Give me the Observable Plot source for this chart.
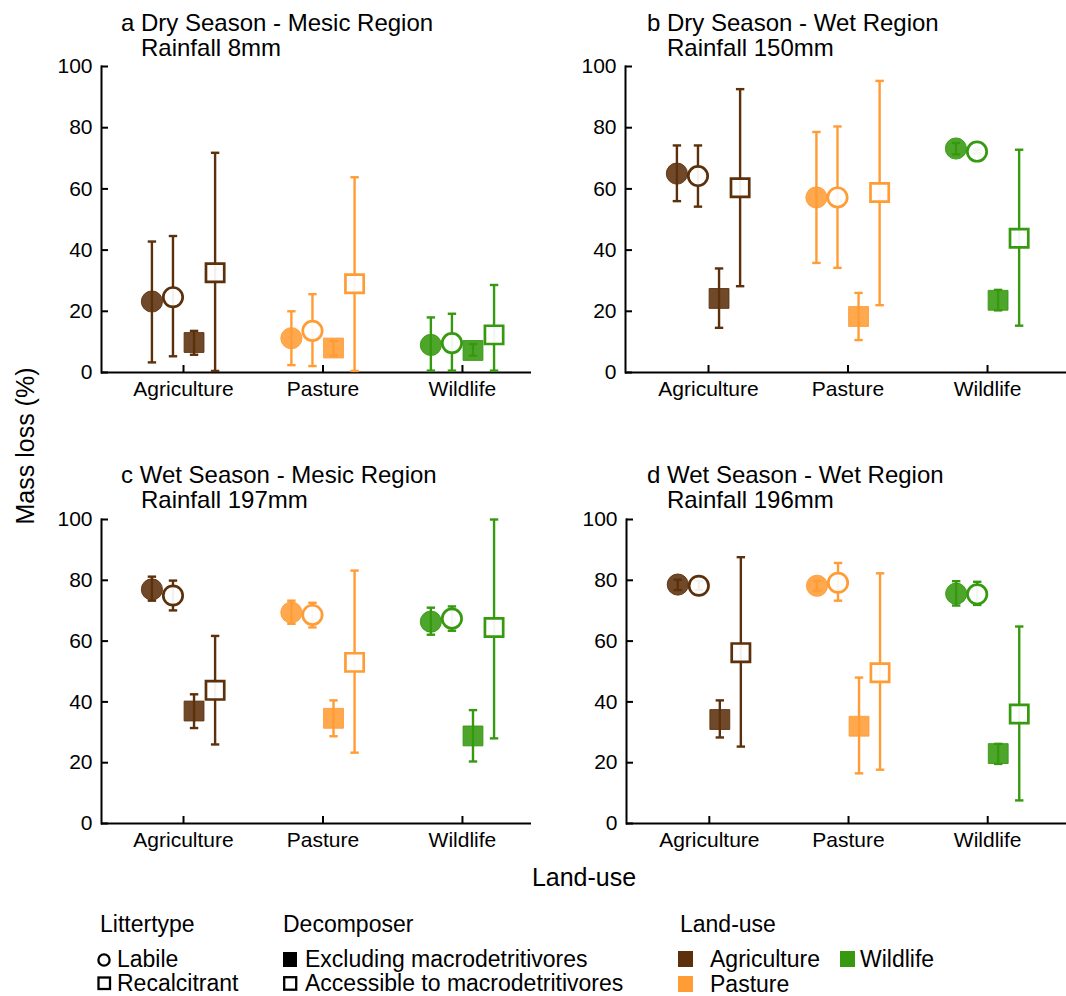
<!DOCTYPE html>
<html><head><meta charset="utf-8">
<script src="https://cdn.jsdelivr.net/npm/d3@7"></script>
<script src="https://cdn.jsdelivr.net/npm/@observablehq/plot@0.6"></script>
<style>
body{margin:0;background:#fff;}
#root{position:relative;width:1066px;height:996px;font-family:"Liberation Sans",Arial,sans-serif;color:#000;overflow:hidden;}
#root > svg{position:absolute;}
</style></head><body><div id="root"></div>
<script>
// ---------- data ----------
const landUse = ["Agriculture", "Pasture", "Wildlife"];
const landColors = ["#5b300b", "#ff9c35", "#36990f"];
const litterTypes = ["Labile", "Recalcitrant"];
const decomposers = ["Excluding macrodetritivores", "Accessible to macrodetritivores"];
const yTicks = [0, 20, 40, 60, 80, 100];
const panelLetters = ["a", "b", "c", "d"];
const panelTitles = ["Dry Season - Mesic Region", "Dry Season - Wet Region", "Wet Season - Mesic Region", "Wet Season - Wet Region"];
const rainfall = ["Rainfall 8mm", "Rainfall 150mm", "Rainfall 197mm", "Rainfall 196mm"];
const xLabel = "Land-use";
const yLabel = "Mass loss (%)";

// order per land-use: Labile/Excl, Labile/Access, Recalcitrant/Excl, Recalcitrant/Access
const meanA  = [23.2, 24.6, 9.8, 32.6,  11.2, 13.6, 8.0, 29.0,  9.0, 9.6, 7.2, 12.3];
const lowA   = [3.3, 5.3, 5.8, 0.5,     2.4, 2.1, 5.5, 0.5,     0.6, 0.6, 5.5, 0.6];
const highA  = [42.8, 44.6, 13.6, 71.8, 20.0, 25.6, 10.3, 63.8, 18.0, 19.2, 9.3, 28.6];

const meanB  = [65.0, 64.2, 24.2, 60.4, 57.2, 57.2, 18.3, 58.8, 73.2, 72.2, 23.6, 43.9];
const lowB   = [56.0, 54.2, 14.6, 28.2, 35.8, 34.2, 10.6, 22.0, 71.3, 71.6, 20.3, 15.3];
const highB  = [74.2, 74.2, 34.0, 92.6, 78.6, 80.4, 26.0, 95.3, 75.0, 72.8, 27.0, 72.8];

const meanC  = [77.0, 75.0, 37.0, 43.8, 69.4, 68.6, 34.6, 53.0, 66.4, 67.4, 28.8, 64.5];
const lowC   = [73.3, 70.1, 31.4, 26.0, 65.7, 64.5, 28.7, 23.3, 62.1, 63.4, 20.4, 28.0];
const highC  = [81.2, 79.9, 42.5, 61.7, 73.3, 72.6, 40.5, 83.2, 71.0, 71.4, 37.3, 100.0];

const meanD  = [78.6, 78.2, 34.2, 56.2, 78.2, 79.2, 32.0, 49.6, 75.6, 75.4, 23.0, 36.0];
const lowD   = [76.8, 76.8, 28.3, 25.3, 76.6, 73.3, 16.5, 17.7, 71.7, 71.9, 19.6, 7.6];
const highD  = [80.2, 79.8, 40.5, 87.6, 79.8, 85.7, 48.0, 82.3, 79.7, 79.5, 26.2, 64.8];

const panelMeans = [meanA, meanB, meanC, meanD];
const panelLows = [lowA, lowB, lowC, lowD];
const panelHighs = [highA, highB, highC, highD];

// ---------- layout ----------
const FONT = '"Liberation Sans", Arial, sans-serif';
const root = document.getElementById("root");
const dodge = 0.151;
const hline = {draw(ctx, size) { const w = Math.sqrt(size / Math.PI); ctx.moveTo(-w, 0); ctx.lineTo(w, 0); }};

const layouts = [
  {left: 0,   top: 56,  width: 531, height: 360, ml: 101, mr: 0, mt: 10, mb: 44, xd: [-0.588, 2.495]},
  {left: 531, top: 56,  width: 535, height: 360, ml: 94,  mr: 0, mt: 10, mb: 44, xd: [-0.595, 2.566]},
  {left: 0,   top: 509, width: 531, height: 358, ml: 101, mr: 0, mt: 10, mb: 44, xd: [-0.588, 2.495]},
  {left: 531, top: 509, width: 535, height: 358, ml: 95,  mr: 0, mt: 10, mb: 44, xd: [-0.595, 2.566]}
];

function rows(p) {
  const out = [];
  landUse.forEach((land, i) => {
    for (let g = 0; g < 4; g++) {
      const k = i * 4 + g;
      out.push({
        land, li: i,
        litter: litterTypes[Math.floor(g / 2)],
        decomposer: decomposers[g % 2],
        pos: i + (g - 1.5) * dodge,
        mean: panelMeans[p][k], low: panelLows[p][k], high: panelHighs[p][k]
      });
    }
  });
  return out;
}

layouts.forEach((L, p) => {
  const data = rows(p);
  const innerW = L.width - L.ml - L.mr;
  const innerH = L.height - L.mt - L.mb;
  const filled = d => d.decomposer === decomposers[0];
  const lab = d => d.litter === litterTypes[0];
  const chart = Plot.plot({
    width: L.width, height: L.height,
    marginLeft: L.ml, marginRight: L.mr, marginTop: L.mt, marginBottom: L.mb,
    x: {type: "linear", domain: L.xd, label: null},
    y: {domain: [0, 100], nice: false, label: null},
    color: {domain: landUse, range: landColors},
    style: {fontFamily: FONT, fontSize: "21px", color: "#000", background: "transparent", overflow: "visible"},
    marks: [
      Plot.ruleY([0], {stroke: "#000", strokeWidth: 2}),
      Plot.frame({anchor: "left", stroke: "#000", strokeWidth: 2}),
      Plot.tickY(yTicks, {y: d => d, insetRight: innerW - 7, stroke: "#000", strokeWidth: 2}),
      Plot.tickX(landUse.map((_, i) => i), {x: d => d, insetTop: innerH - 7, stroke: "#000", strokeWidth: 2}),
      Plot.axisY(yTicks, {tickSize: 0, tickPadding: 9, fontSize: 21, fill: "#000", label: null}),
      Plot.axisX(landUse.map((_, i) => i), {tickSize: 0, tickPadding: 9, fontSize: 21, fill: "#000", label: null, tickFormat: i => landUse[i]}),
      // error bars
      Plot.ruleX(data, {x: "pos", y1: "low", y2: "high", stroke: "land", strokeWidth: 2.4}),
      Plot.dot(data, {x: "pos", y: "high", symbol: hline, r: 4.2, stroke: "land", strokeWidth: 2.4, fill: "none"}),
      Plot.dot(data, {x: "pos", y: "low", symbol: hline, r: 4.2, stroke: "land", strokeWidth: 2.4, fill: "none"}),
      // markers
      Plot.dot(data.filter(d => lab(d) && filled(d)), {x: "pos", y: "mean", symbol: "circle", r: 10.6, fill: "land", stroke: "land", strokeWidth: 1, fillOpacity: 0.88, strokeOpacity: 0.88}),
      Plot.dot(data.filter(d => lab(d) && !filled(d)), {x: "pos", y: "mean", symbol: "circle", r: 9.7, fill: "white", fillOpacity: 0.93, stroke: "land", strokeWidth: 2.7}),
      Plot.dot(data.filter(d => !lab(d) && filled(d)), {x: "pos", y: "mean", symbol: "square", r: 11.2, fill: "land", stroke: "land", strokeWidth: 1, fillOpacity: 0.88, strokeOpacity: 0.88}),
      Plot.dot(data.filter(d => !lab(d) && !filled(d)), {x: "pos", y: "mean", symbol: "square", r: 10.3, fill: "white", fillOpacity: 0.93, stroke: "land", strokeWidth: 2.7})
    ]
  });
  chart.style.position = "absolute";
  chart.style.left = L.left + "px";
  chart.style.top = L.top + "px";
  chart.style.maxWidth = "none";
  root.appendChild(chart);
});

// ---------- titles, axis labels, legend (overlay) ----------
const ns = "http://www.w3.org/2000/svg";
const ov = document.createElementNS(ns, "svg");
ov.setAttribute("width", 1066); ov.setAttribute("height", 996);
ov.style.left = "0px"; ov.style.top = "0px"; ov.style.pointerEvents = "none";
ov.setAttribute("font-family", FONT);
root.appendChild(ov);
function txt(s, x, y, size, extra = {}) {
  const t = document.createElementNS(ns, "text");
  t.setAttribute("x", x); t.setAttribute("y", y); t.setAttribute("font-size", size); t.setAttribute("fill", "#000");
  for (const k in extra) t.setAttribute(k, extra[k]);
  t.textContent = s; ov.appendChild(t); return t;
}
function el(tag, attrs) {
  const e = document.createElementNS(ns, tag);
  for (const k in attrs) e.setAttribute(k, attrs[k]);
  ov.appendChild(e); return e;
}
const titlePos = [[121, 31], [647, 31], [121, 483], [647, 483]];
titlePos.forEach(([x, y], p) => {
  txt(panelLetters[p] + " " + panelTitles[p], x, y, 24);
  txt(rainfall[p], x + 20, y + 24.5, 24);
});
txt(yLabel, 0, 0, 25, {transform: "translate(34,446) rotate(-90)", "text-anchor": "middle"});
txt(xLabel, 584, 886, 25, {"text-anchor": "middle"});

// legend
const LF = 23;
txt("Littertype", 100, 932, LF);
el("circle", {cx: 104, cy: 960, r: 5.6, fill: "none", stroke: "#000", "stroke-width": 2.3});
txt(litterTypes[0], 117, 967, LF);
el("rect", {x: 98.5, y: 977.5, width: 11.5, height: 11.5, fill: "none", stroke: "#000", "stroke-width": 2.3});
txt(litterTypes[1], 117, 991, LF);

txt("Decomposer", 283, 932, LF);
el("rect", {x: 283, y: 952, width: 14, height: 15, fill: "#000"});
txt(decomposers[0], 305, 967, LF);
el("rect", {x: 284.2, y: 977.2, width: 12, height: 12.5, fill: "none", stroke: "#000", "stroke-width": 2.3});
txt(decomposers[1], 305, 991, LF);

txt("Land-use", 680, 932, LF);
const swatches = [[678, 951], [678, 976], [840, 951]];
const labelX = [710, 710, 860];
landUse.forEach((name, i) => {
  el("rect", {x: swatches[i][0], y: swatches[i][1], width: 15, height: 16, fill: landColors[i]});
  txt(name, labelX[i], swatches[i][1] + 16, LF);
});
</script></body></html>
